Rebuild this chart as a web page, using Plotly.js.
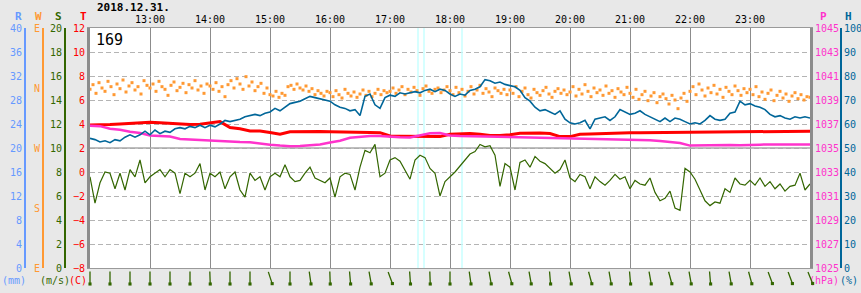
<!DOCTYPE html>
<html><head><meta charset="utf-8">
<script src="https://cdn.plot.ly/plotly-3.0.1.min.js"></script>
<style>html,body{margin:0;padding:0;background:#e8e8e8;}#chart{width:861px;height:293px;}</style>
</head><body><div id="chart"></div>
<script>
// ---------- data ----------
const dateLabel = '2018.12.31.';
const stationId = '169';
const hourTicks = ['13:00','14:00','15:00','16:00','17:00','18:00','19:00','20:00','21:00','22:00','23:00'];
const eventMarks = [328, 334, 372]; // minutes after 12:00 (cyan markers)

// Rainfall (mm), hourly — none fell
const rainfall = [0,0,0,0,0,0,0,0,0,0,0,0,0];

// Temperature (C), every 10 min from 12:00
const temperature = [3.92,3.92,3.95,4.0,4.05,4.08,4.15,4.1,4.05,3.95,3.95,3.98,4.1,4.2,3.7,3.6,3.42,3.42,3.3,3.15,
 3.35,3.38,3.4,3.38,3.35,3.35,3.33,3.32,3.3,3.28,3.0,2.98,2.97,2.95,2.92,2.95,3.15,3.2,3.2,3.15,
 3.05,3.05,3.1,3.22,3.25,3.25,3.2,2.95,2.95,3.15,3.17,3.2,3.25,3.28,3.28,3.27,3.28,3.3,3.3,3.28,
 3.3,3.33,3.33,3.35,3.33,3.35,3.38,3.38,3.4,3.4,3.4,3.38,3.4];

// Pressure (hPa), every 10 min
const pressure = [1036.85,1036.82,1036.6,1036.52,1036.35,1036.25,1036.05,1036.0,1035.95,1035.75,1035.7,1035.68,1035.62,1035.55,1035.55,1035.5,1035.48,1035.35,1035.28,1035.2,
 1035.15,1035.17,1035.22,1035.3,1035.45,1035.6,1035.85,1035.95,1036.0,1036.0,1035.92,1035.9,1035.88,1036.05,1036.22,1036.25,1036.05,1036.0,1035.98,1035.97,
 1035.95,1035.93,1035.92,1035.9,1035.92,1035.9,1035.85,1035.82,1035.8,1035.8,1035.78,1035.78,1035.75,1035.7,1035.68,1035.68,1035.65,1035.58,1035.52,1035.42,
 1035.2,1035.22,1035.22,1035.22,1035.25,1035.22,1035.28,1035.28,1035.3,1035.28,1035.3,1035.3,1035.3];

// Humidity (%), every 5 min
const humidity = [54,53.5,52.5,53,52.2,53.5,53,54.5,55.5,54.5,55.5,57,55.5,57.5,56,57,56.5,58,58.5,58,
 59,58.5,59.5,58.5,59.5,58.8,60,61.5,61,61.5,62,63,63.5,64,63.5,64.5,65,66.5,65.5,67,
 68.5,69,69.5,70.5,71.5,71,70.5,70,69.5,68,67,66.5,65.5,66,63.5,71.5,72.5,68,66.5,71,
 72,71.5,73,72.5,73,73.5,73,74,74.5,73.5,74.5,74,72.5,71.5,72.5,72,74,74.5,75.5,78.5,
 78,77,77.5,76.5,76,75.5,74,71,69.5,67,65.5,66,65,64,65.5,62,60.5,60,60.5,61.5,
 58,62,62.5,63,61.5,63,66,65,64,64.5,65.5,64,63,62,61,62.5,61,62.5,62,61,
 60,60.5,60,61.5,63.5,62,61.5,62,64.5,65,69.5,68,68.5,67.5,67,66,64,63,63.5,62.5,
 62,63,62.5,63,62.5];

// Wind speed (m/s), every 5 min
const windSpeed = [7.6,5.4,7.1,8.0,7.9,6.6,7.9,6.5,8.2,7.6,9.0,7.1,7.6,7.9,8.2,7.6,8.2,7.9,6.2,7.9,
 7.6,7.9,8.7,6.5,7.9,7.6,8.0,6.6,7.6,8.0,6.5,5.9,7.9,7.3,7.6,6.5,7.6,7.9,7.6,8.6,
 7.6,7.2,7.3,7.9,8.4,7.5,7.3,7.1,7.5,5.9,7.6,7.9,7.8,6.5,8.4,9.8,9.6,10.3,7.6,7.9,
 9.0,9.2,8.9,8.2,7.4,9.0,9.4,9.2,8.3,7.9,6.0,7.2,7.6,8.0,8.5,9.0,9.5,9.7,10.3,10.1,
 10.2,9.4,6.8,8.7,8.4,6.5,8.8,9.0,8.4,9.3,8.9,8.7,8.3,7.9,8.2,9.0,7.5,7.2,7.8,7.6,
 6.6,7.6,7.2,6.9,7.3,7.8,7.4,7.6,6.6,7.3,7.0,6.9,7.5,6.3,5.6,5.8,6.4,5.0,4.8,8.3,
 8.0,7.4,6.5,5.6,5.2,5.5,5.4,6.6,6.3,7.5,7.0,6.9,7.3,6.9,7.5,6.8,7.2,6.6,7.0,6.4,
 6.8,6.9,7.9,6.5,7.0];

// Wind direction (deg), every 3 min
const windDir = [358,365,352,368,360,355,370,362,350,366,359,372,354,363,368,357,362,351,371,364,
 360,366,355,370,362,358,349,364,369,356,361,367,353,365,360,371,357,363,352,366,
 363,358,368,355,362,347,365,371,360,374,366,358,377,363,369,356,362,367,352,360,
 350,348,355,346,352,349,362,364,358,366,360,357,363,355,359,350,356,352,348,355,
 353,347,356,350,345,358,352,348,354,346,351,357,349,355,347,352,358,350,356,353,
 355,360,352,357,362,350,358,354,361,356,349,359,363,355,352,358,360,353,357,362,
 356,350,361,353,358,348,355,362,351,357,364,352,359,354,347,360,356,352,358,350,
 357,352,362,347,355,360,350,345,358,353,349,356,361,351,346,355,359,352,357,350,
 354,362,348,358,351,365,355,347,360,353,357,349,363,352,356,346,359,354,350,361,
 352,346,358,343,350,355,341,348,353,338,347,351,344,336,349,342,329,345,352,340,
 355,362,350,366,357,348,360,353,364,351,358,346,361,355,350,363,356,349,359,353,
 358,350,362,347,354,343,352,357,341,349,355,345,351,340,348,353,344,350,342,347,
 346];

// Wind arrows (direction from, deg), every 20 min
const arrowDir = [360,360,360,360,360,360,358,360,360,342,360,352,358,355,350,340,356,358,360,352,
 350,345,350,355,350,345,350,355,350,345,350,355,350,345,340,340,338];

// ---------- helpers ----------
const base = Date.UTC(2018,11,31,12,0,0);
function t(m){ return new Date(base + m*60000).toISOString().replace('T',' ').slice(0,19); }
function times(n, step){ const a=[]; for(let i=0;i<n;i++) a.push(t(i*step)); return a; }

const W = 861, H = 293;
const px = v => v / W;
const py = v => (H - v) / H;
const FONT = 'DejaVu Sans Mono';

const traces = [
 {x: times(temperature.length,10), y: temperature, yaxis:'y', mode:'lines', line:{color:'#ff0000', width:3}},
 {x: times(windDir.length,3), y: windDir, yaxis:'y2', mode:'markers', marker:{symbol:'square', size:3, color:'#ff9933', line:{width:0}}},
 {x: times(pressure.length,10), y: pressure, yaxis:'y3', mode:'lines', line:{color:'#ff33cc', width:2.5}},
 {x: times(humidity.length,5), y: humidity, yaxis:'y4', mode:'lines', line:{color:'#006699', width:1.6}},
 {x: times(windSpeed.length,5), y: windSpeed, yaxis:'y5', mode:'lines', line:{color:'#336600', width:1.2}},
 {x: times(rainfall.length,60), y: rainfall, yaxis:'y6', mode:'lines', line:{color:'rgba(102,153,255,0)', width:0}},
];

const yDom = [py(268), py(28)];
const num = (a,b,s)=>{const r=[];for(let v=a;v<=b+1e-9;v+=s)r.push(+v.toFixed(3));return r;};

const shapes = eventMarks.map(m => ({type:'line', xref:'x', yref:'y', x0:t(m), x1:t(m), y0:-8, y1:12, line:{color:'#c8ffff', width:1.5}, layer:'between'}));
shapes.push({type:'line', xref:'x', yref:'y', x0:t(0), x1:t(720), y0:2, y1:2, line:{color:'#a8a8a8', width:1.5}, layer:'between'});

const ann = [];
function txt(x,y,text,color,size,anchor){ ann.push({xref:'paper',yref:'paper',x:px(x),y:py(y),text:text,showarrow:false,xanchor:anchor||'center',yanchor:'middle',font:{family:FONT,size:size||10,color:color}}); }
txt(95,7,'<b>'+dateLabel+'</b>','#000',11,'left');
txt(94,40,stationId,'#000',15,'left');
txt(18,16,'<b>R</b>','#6699ff',11); txt(38,16,'<b>W</b>','#ff9933',11); txt(58,16,'<b>S</b>','#336600',11); txt(83,16,'<b>T</b>','#ff0000',11);
txt(823,16,'<b>P</b>','#ff33cc',11); txt(848,16,'<b>H</b>','#006699',11);
txt(14,280,'(mm)','#6699ff'); txt(55,280,'(m/s)','#336600'); txt(78,280,'(C)','#ff0000');
txt(824,280,'(hPa)','#ff33cc'); txt(849,280,'(%)','#006699');

const L = 14;
arrowDir.forEach((d,i) => {
  const a = (d + 180) * Math.PI/180;
  const vx = Math.sin(a), vy = -Math.cos(a);
  ann.push({xref:'x', yref:'paper', x:t(i*20), y:py(277 + vy*L/2), xshift: vx*L/2, text:'', showarrow:true,
    ax:-vx*L, ay:-vy*L, arrowhead:7, arrowsize:0.6, arrowwidth:1.3, arrowcolor:'#336600'});
});

const layout = {
 width:W, height:H, margin:{l:0,r:0,t:0,b:0}, paper_bgcolor:'#e8e8e8', plot_bgcolor:'#ffffff', showlegend:false,
 font:{family:FONT, size:10, color:'#000'},
 xaxis:{type:'date', domain:[px(90), px(810)], range:[t(0), t(720)], side:'top', anchor:'y',
   tickvals: hourTicks.map((h,i)=>t((i+1)*60)), ticktext: hourTicks, ticks:'',
   showgrid:true, gridcolor:'#8c8c8c', gridwidth:1, showline:true, linecolor:'#9a9a9a', linewidth:1, mirror:true,
   tickfont:{family:FONT,size:10,color:'#000'}},
 yaxis:{domain:yDom, range:[-8,12], tickvals:num(-8,12,2), ticks:'', showgrid:true, gridcolor:'#b4b4b4', griddash:'5px,3px',
   zeroline:false, showline:true, linecolor:'#8c8c8c', linewidth:3, tickfont:{family:FONT,size:10,color:'#ff0000'}},
 yaxis2:{overlaying:'y', anchor:'free', position:px(43), side:'left', range:[90,450], tickvals:[90,180,270,360,450], ticktext:['E','S','W','N','E'],
   ticks:'', showgrid:false, zeroline:false, showline:true, linecolor:'#ff9933', linewidth:2, tickfont:{family:FONT,size:10,color:'#ff9933'}},
 yaxis3:{overlaying:'y', anchor:'x', side:'right', range:[1025,1045], tickvals:num(1025,1045,2), ticks:'', showgrid:false, zeroline:false,
   showline:true, linecolor:'#8c8c8c', linewidth:3, tickfont:{family:FONT,size:10,color:'#ff33cc'}},
 yaxis4:{overlaying:'y', anchor:'free', position:px(841), side:'right', range:[0,100], tickvals:num(0,100,10), ticks:'', showgrid:false, zeroline:false,
   showline:true, linecolor:'#006699', linewidth:2, tickfont:{family:FONT,size:10,color:'#006699'}},
 yaxis5:{overlaying:'y', anchor:'free', position:px(65), side:'left', range:[0,20], tickvals:num(0,20,2), ticks:'', showgrid:false, zeroline:false,
   showline:true, linecolor:'#336600', linewidth:2, tickfont:{family:FONT,size:10,color:'#336600'}},
 yaxis6:{overlaying:'y', anchor:'free', position:px(25), side:'left', range:[0,40], tickvals:num(0,40,4), ticks:'', showgrid:false, zeroline:false,
   showline:true, linecolor:'#6699ff', linewidth:2, tickfont:{family:FONT,size:10,color:'#6699ff'}},
 shapes: shapes, annotations: ann
};
Plotly.newPlot('chart', traces, layout, {staticPlot:true, displayModeBar:false});
</script></body></html>
